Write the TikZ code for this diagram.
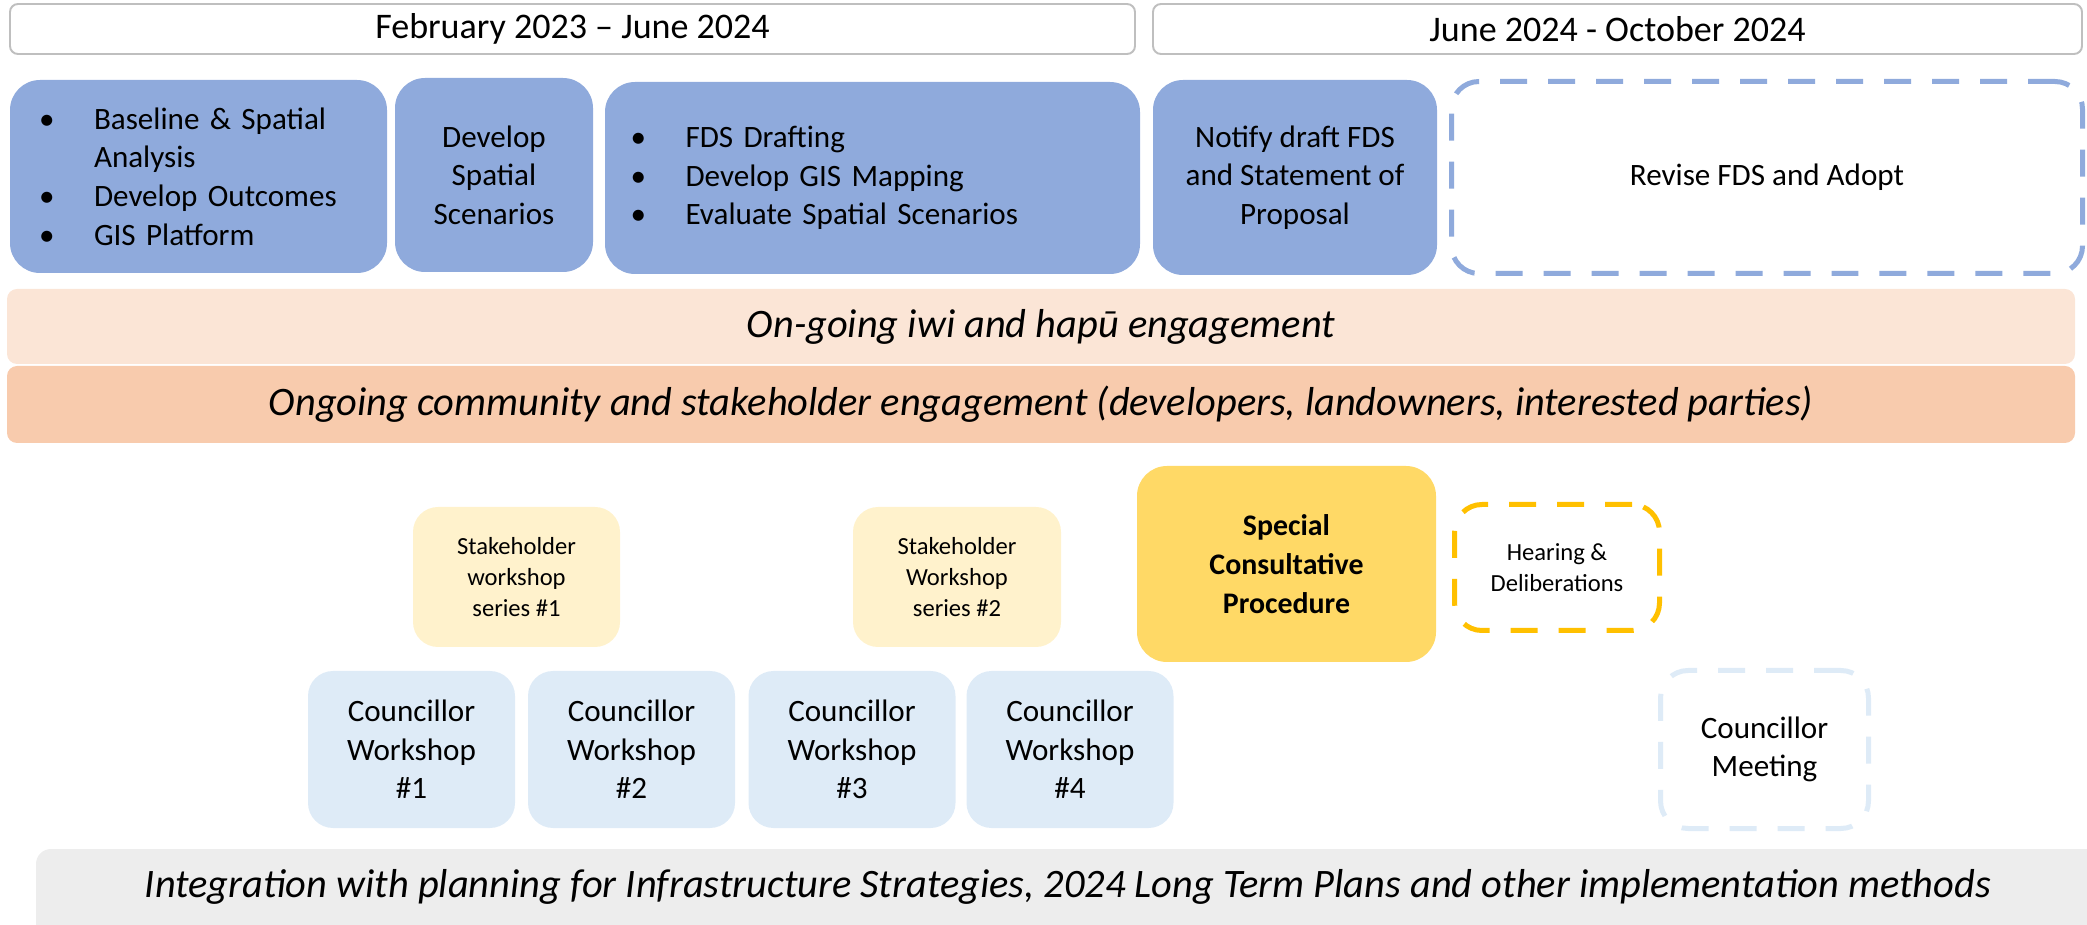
\documentclass[tikz,border=0pt]{standalone}
\usepackage{fontspec}
\setmainfont{Carlito}

\definecolor{periodline}{HTML}{BFBFBF}
\definecolor{phaseblue}{HTML}{8FAADC}
\definecolor{iwiband}{HTML}{FBE5D6}
\definecolor{commband}{HTML}{F8CBAD}
\definecolor{stakeyellow}{HTML}{FFF2CC}
\definecolor{scpyellow}{HTML}{FFD966}
\definecolor{hearingline}{HTML}{FFC000}
\definecolor{councilblue}{HTML}{DEEBF7}
\definecolor{intgrey}{HTML}{EDEDED}

% bullet with hanging indent
\newcommand{\blt}{\makebox[1.1cm][l]{\textbullet}}
\newcommand{\bltsp}{\hspace*{1.1cm}}

\begin{document}
\begin{tikzpicture}[x=0.02cm,y=-0.02cm,
  every node/.style={align=center,inner sep=0pt},
  big/.style={font=\fontsize{20.5}{25}\selectfont},
  mid/.style={font=\fontsize{17.7}{22}\selectfont},
  small/.style={font=\fontsize{14}{17.5}\selectfont},
  wh/.style 2 args={minimum width=#1*0.02cm,minimum height=#2*0.02cm},
  period/.style={draw=periodline,line width=1.1pt,fill=white,rounded corners=0.16cm,big},
  phase/.style={fill=phaseblue,rounded corners=0.6cm,mid},
  dashbox/.style={dash pattern=on 0.54cm off 0.42cm,line width=0.1cm,fill=white,rounded corners=0.55cm},
  band/.style={rounded corners=0.2cm,font=\fontsize{23}{28}\selectfont\itshape},
  stake/.style={fill=stakeyellow,rounded corners=0.5cm,small},
  council/.style={fill=councilblue,rounded corners=0.5cm,mid},
  scp/.style={fill=scpyellow,rounded corners=0.6cm,font=\fontsize{17}{22}\selectfont\bfseries}]
\useasboundingbox (0,0) rectangle (2087,925);
\clip (0,0) rectangle (2087,925);
%
% time periods
\node[period,wh={1125}{50}] (feb23) at (572.5,29) {February 2023 -- June 2024};
\node[period,wh={929}{50}] (jun24) at (1617.5,29) {June 2024 - October 2024};
%
% phases
\node[phase,wh={377}{193},text width=6.38cm,inner xsep=0.58cm,align=left] (baseline) at (198.5,176.5)
  {\blt Baseline \& Spatial\\\bltsp Analysis\\\blt Develop Outcomes\\\blt GIS Platform};
\node[phase,wh={198}{194}] (scenarios) at (494,175) {Develop\\Spatial\\Scenarios};
\node[phase,wh={535}{192},text width=9.68cm,inner xsep=0.51cm,align=left] (drafting) at (872.5,178)
  {\blt FDS Drafting\\\blt Develop GIS Mapping\\\blt Evaluate Spatial Scenarios};
\node[phase,wh={284}{195}] (notify) at (1295,177.5) {Notify draft FDS\\and Statement of\\Proposal};
\node[dashbox,draw=phaseblue,wh={631}{192},mid] (adopt) at (1767,177.5) {Revise FDS and Adopt};
%
% engagement bands
\node[band,fill=iwiband,wh={2068}{75}] (iwi) at (1041,326.5) {On-going iwi and hapū engagement};
\node[band,fill=commband,wh={2068}{77}] (community) at (1041,404.5)
  {Ongoing community and stakeholder engagement (developers, landowners, interested parties)};
%
% workshops and consultation
\node[stake,wh={207}{140}] (stake1) at (516.5,577) {Stakeholder\\workshop\\series \#1};
\node[stake,wh={208}{140}] (stake2) at (957,577) {Stakeholder\\Workshop\\series \#2};
\node[scp,wh={299}{196}] (scp) at (1286.5,564) {Special\\Consultative\\Procedure};
\node[dashbox,draw=hearingline,wh={205}{126},small] (hearing) at (1557,567.5) {Hearing \&\\Deliberations};
\foreach \n/\x in {1/411.5,2/631.5,3/852,4/1070}
  \node[council,wh={207}{157}] (cw\n) at (\x,749.5) {Councillor\\Workshop\\\#\n};
\node[dashbox,draw=councilblue,wh={208}{158},mid] (meeting) at (1764.5,749.5) {Councillor\\Meeting};
%
% integration band (runs off the bottom edge)
\fill[intgrey] (36,900) rectangle (2110,930);
\node[band,fill=intgrey,rounded corners=0.3cm,wh={2064}{76}] (integration) at (1068,887)
  {Integration with planning for Infrastructure Strategies, 2024 Long Term Plans and other implementation methods};
\end{tikzpicture}
\end{document}
